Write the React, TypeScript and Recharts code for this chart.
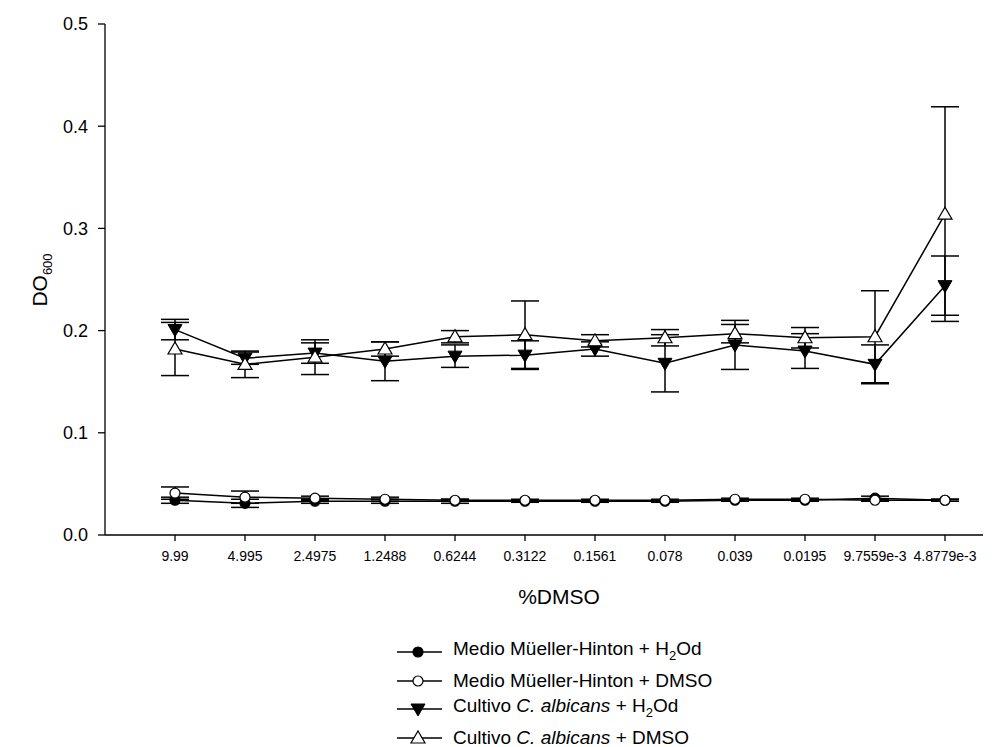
import React from 'react';
import { LineChart, Line, XAxis, YAxis, ErrorBar } from 'recharts';

// %DMSO dilutions (category axis)
const dmso = ['9.99', '4.995', '2.4975', '1.2488', '0.6244', '0.3122', '0.1561', '0.078', '0.039', '0.0195', '9.7559e-3', '4.8779e-3'];

const medioH2O = [0.034, 0.031, 0.033, 0.033, 0.033, 0.033, 0.033, 0.033, 0.034, 0.034, 0.036, 0.034];
const medioH2OErr = [0.003, 0.004, 0.002, 0.002, 0.002, 0.001, 0.001, 0.001, 0.001, 0.001, 0.002, 0.001];
const medioDMSO = [0.041, 0.037, 0.036, 0.035, 0.034, 0.034, 0.034, 0.034, 0.035, 0.035, 0.034, 0.034];
const medioDMSOErr = [0.006, 0.006, 0.002, 0.002, 0.001, 0.001, 0.001, 0.001, 0.001, 0.001, 0.001, 0.001];
const cultH2O = [0.201, 0.173, 0.178, 0.170, 0.175, 0.176, 0.182, 0.168, 0.186, 0.180, 0.167, 0.244];
const cultH2OErr = [0.010, 0.006, 0.010, 0.019, 0.011, 0.014, 0.007, 0.028, 0.024, 0.017, 0.019, 0.029];
const cultDMSO = [0.182, 0.167, 0.174, 0.182, 0.194, 0.196, 0.190, 0.193, 0.197, 0.193, 0.194, 0.314];
const cultDMSOErr = [0.026, 0.013, 0.017, 0.007, 0.006, 0.033, 0.006, 0.008, 0.009, 0.010, 0.045, 0.105];

const yTicks = [0, 0.1, 0.2, 0.3, 0.4, 0.5];

const data = dmso.map((d, i) => ({
  dmso: d,
  medioH2O: medioH2O[i],
  medioH2OErr: medioH2OErr[i],
  medioDMSO: medioDMSO[i],
  medioDMSOErr: medioDMSOErr[i],
  cultH2O: cultH2O[i],
  cultH2OErr: cultH2OErr[i],
  cultDMSO: cultDMSO[i],
  cultDMSOErr: cultDMSOErr[i],
}));

const FONT = '"Liberation Sans", Arial, sans-serif';

const Marker = ({ kind, cx, cy }: { kind: string; cx: number; cy: number }) => {
  if (kind === 'filledCircle') return <circle cx={cx} cy={cy} r={5} fill="#000" stroke="#000" strokeWidth={1.2} />;
  if (kind === 'openCircle') return <circle cx={cx} cy={cy} r={5} fill="#fff" stroke="#000" strokeWidth={1.2} />;
  if (kind === 'downTri')
    return <polygon points={`${cx - 7},${cy - 5} ${cx + 7},${cy - 5} ${cx},${cy + 7}`} fill="#000" stroke="#000" strokeWidth={1} />;
  return <polygon points={`${cx - 7},${cy + 5} ${cx + 7},${cy + 5} ${cx},${cy - 7}`} fill="#fff" stroke="#000" strokeWidth={1.2} />;
};

const dotFor = (kind: string) => (props: any) => {
  if (props.cx == null || props.cy == null) return <g key={`${kind}-${props.index}`} />;
  return <Marker key={`${kind}-${props.index}`} kind={kind} cx={props.cx} cy={props.cy} />;
};

const legendItems = [
  { kind: 'filledCircle', label: <>Medio Müeller-Hinton + H<sub style={{ fontSize: 13 }}>2</sub>Od</> },
  { kind: 'openCircle', label: <>Medio Müeller-Hinton + DMSO</> },
  { kind: 'downTri', label: <>Cultivo <i>C. albicans</i> + H<sub style={{ fontSize: 13 }}>2</sub>Od</> },
  { kind: 'upTri', label: <>Cultivo <i>C. albicans</i> + DMSO</> },
];

export default function App() {
  return (
    <div style={{ position: 'absolute', left: 0, top: 0, width: 1000, height: 747, background: '#fff', fontFamily: FONT }}>
      <LineChart width={1000} height={747} data={data} margin={{ top: 24, right: 17, bottom: 182, left: 0 }}>
        <XAxis
          dataKey="dmso"
          interval={0}
          padding={{ left: 70, right: 38 }}
          tickSize={6}
          tickMargin={10}
          tick={{ fill: '#000', fontSize: 14, fontFamily: FONT }}
          stroke="#000"
          strokeWidth={1.3}
          height={30}
          label={{
            content: () => (
              <text x={559} y={604} textAnchor="middle" fontSize={21} fontFamily={FONT} fill="#000">
                %DMSO
              </text>
            ),
          }}
        />
        <YAxis
          domain={[0, 0.5]}
          ticks={yTicks}
          width={105}
          tickSize={7}
          tickMargin={10}
          tickFormatter={(v: number) => v.toFixed(1)}
          tick={{ fill: '#000', fontSize: 18, fontFamily: FONT }}
          stroke="#000"
          strokeWidth={1.3}
          label={{
            content: () => (
              <text transform="translate(47,280) rotate(-90)" textAnchor="middle" fontSize={21} fontFamily={FONT} fill="#000">
                DO<tspan fontSize={13} dy={5}>600</tspan>
              </text>
            ),
          }}
        />
        <Line dataKey="medioH2O" stroke="#000" strokeWidth={1.5} dot={dotFor('filledCircle')} isAnimationActive={false}>
          <ErrorBar dataKey="medioH2OErr" width={14} stroke="#000" strokeWidth={1.5} direction="y" />
        </Line>
        <Line dataKey="medioDMSO" stroke="#000" strokeWidth={1.5} dot={dotFor('openCircle')} isAnimationActive={false}>
          <ErrorBar dataKey="medioDMSOErr" width={14} stroke="#000" strokeWidth={1.5} direction="y" />
        </Line>
        <Line dataKey="cultH2O" stroke="#000" strokeWidth={1.5} dot={dotFor('downTri')} isAnimationActive={false}>
          <ErrorBar dataKey="cultH2OErr" width={14} stroke="#000" strokeWidth={1.5} direction="y" />
        </Line>
        <Line dataKey="cultDMSO" stroke="#000" strokeWidth={1.5} dot={dotFor('upTri')} isAnimationActive={false}>
          <ErrorBar dataKey="cultDMSOErr" width={14} stroke="#000" strokeWidth={1.5} direction="y" />
        </Line>
      </LineChart>
      <div style={{ position: 'absolute', left: 397, top: 638, fontSize: 19, color: '#000', lineHeight: '28px' }}>
        {legendItems.map((it, i) => (
          <div key={i} style={{ display: 'flex', alignItems: 'center', height: 28.5 }}>
            <svg width={56} height={20} style={{ flex: 'none' }}>
              <line x1={0} y1={10} x2={45} y2={10} stroke="#000" strokeWidth={1.5} />
              <Marker kind={it.kind} cx={21} cy={10} />
            </svg>
            <span style={{ whiteSpace: 'nowrap' }}>{it.label}</span>
          </div>
        ))}
      </div>
    </div>
  );
}
